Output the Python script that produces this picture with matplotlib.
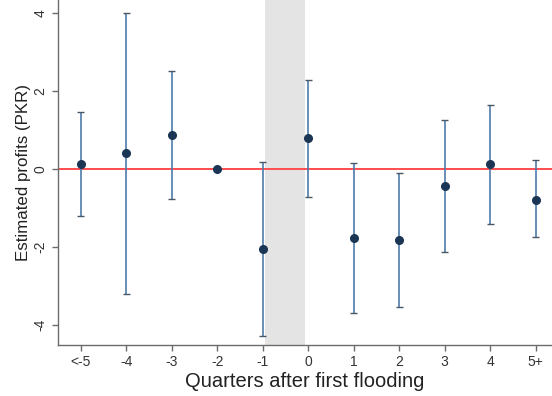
import matplotlib
matplotlib.use("Agg")
import matplotlib.pyplot as plt
import numpy as np

plt.rcParams['font.family'] = ['Liberation Sans', 'DejaVu Sans']

# Event-study estimates by quarter relative to first flooding
quarters = ["<-5", "-4", "-3", "-2", "-1", "0", "1", "2", "3", "4", "5+"]
estimates = [0.13, 0.40, 0.88, 0.0, -2.04, 0.79, -1.76, -1.82, -0.44, 0.12, -0.79]
ci_upper = [1.47, 4.00, 2.51, 0.0, 0.19, 2.27, 0.15, -0.10, 1.25, 1.64, 0.24]
ci_lower = [-1.21, -3.20, -0.77, 0.0, -4.27, -0.71, -3.68, -3.53, -2.12, -1.41, -1.74]
yticks = [-4, -2, 0, 2, 4]

x = np.arange(len(quarters))
est = np.array(estimates)
lo = np.array(ci_lower)
hi = np.array(ci_upper)

fig = plt.figure(figsize=(5.52, 3.96), dpi=100)
ax = fig.add_axes([0.105, 0.129, 0.895, 0.871])

# Flooding quarter band
ax.axvspan(x[4] + 0.06, x[5] - 0.06, color="#e4e4e4", zorder=0, lw=0)
ax.axhline(0, color="#ff4d4d", lw=1.4, zorder=1)

# Confidence intervals with caps
has_ci = hi != lo
ax.vlines(x[has_ci], lo[has_ci], hi[has_ci], color="#4f7bab", lw=1.2, zorder=2)
ax.hlines(hi[has_ci], x[has_ci] - 0.075, x[has_ci] + 0.075, color="#4a5866", lw=1.0, zorder=3)
ax.hlines(lo[has_ci], x[has_ci] - 0.075, x[has_ci] + 0.075, color="#4a5866", lw=1.0, zorder=3)
ax.plot(x, est, "o", color="#1b3555", markersize=5.5, zorder=4)

ax.set_xlim(-0.5, 10.36)
ax.set_ylim(-4.51, 4.33)
ax.set_xticks(x)
ax.set_xticklabels(quarters)
ax.set_yticks(yticks)
ax.set_yticklabels([str(t) for t in yticks], rotation=90, va="center")

for s in ["top", "right"]:
    ax.spines[s].set_visible(False)
for s in ["left", "bottom"]:
    ax.spines[s].set_color("#6b6b6b")
    ax.spines[s].set_linewidth(1.0)
ax.tick_params(axis="both", direction="out", length=4, width=1.0,
               color="#6b6b6b", labelsize=10, labelcolor="#333333")

ax.set_xlabel("Quarters after first flooding", fontsize=14.5, color="#222222", labelpad=2)
ax.set_ylabel("Estimated profits (PKR)", fontsize=12.2, color="#222222", labelpad=2)

fig.savefig("out.png", dpi=100)
